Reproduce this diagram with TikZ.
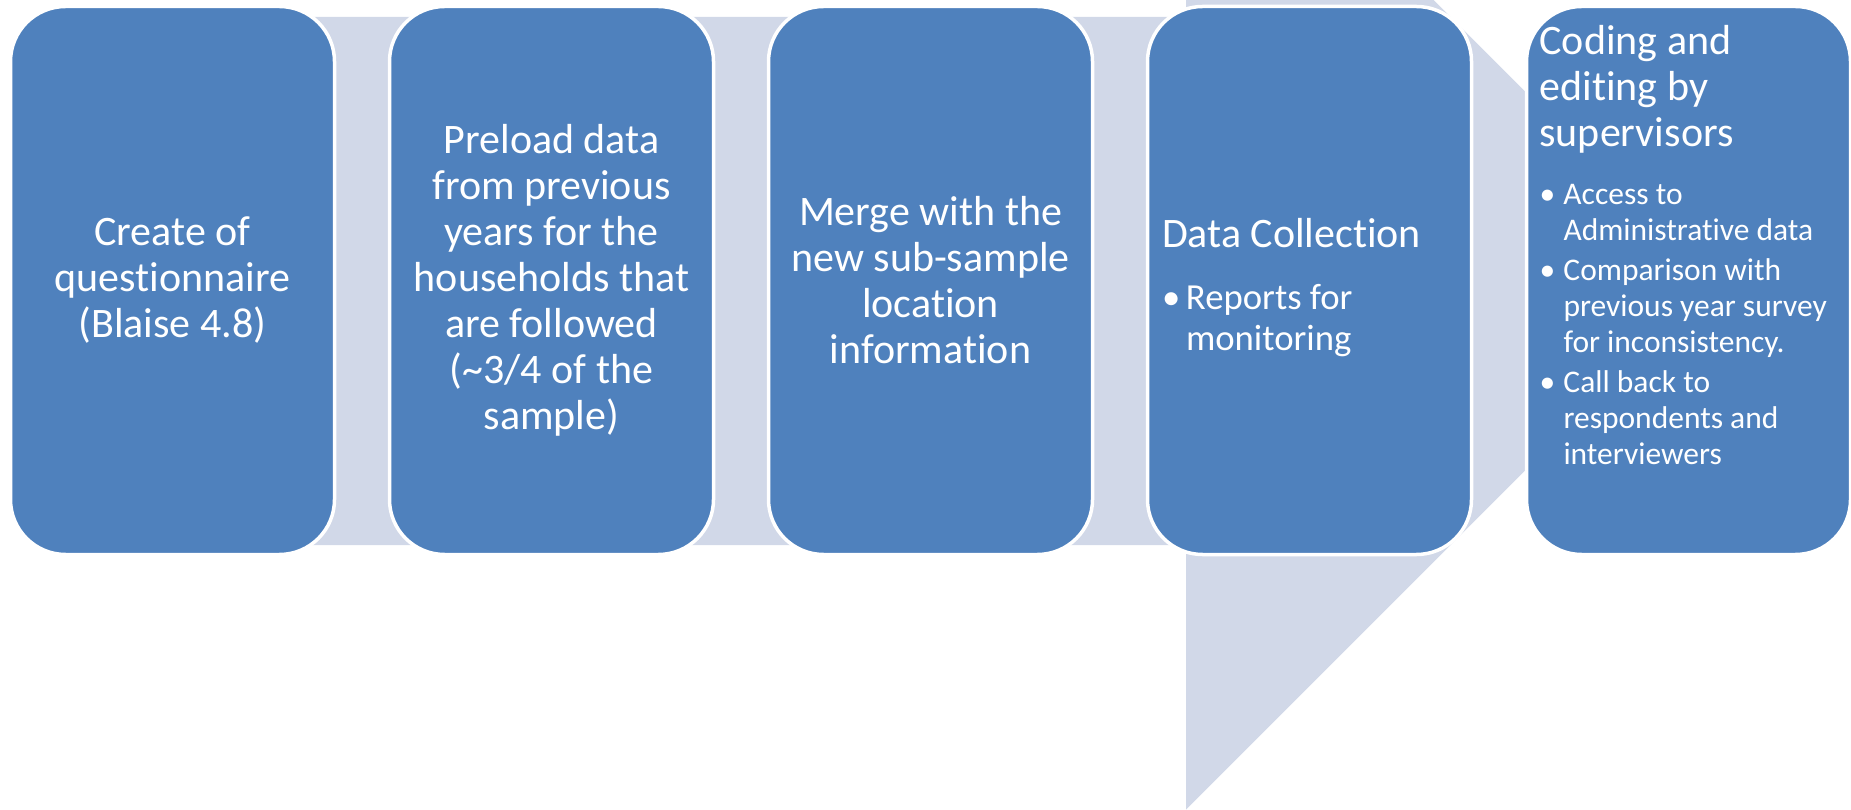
\documentclass[tikz,border=0pt]{standalone}
\usepackage{fontspec}
\setmainfont{Carlito}[Ligatures=NoCommon]
\usetikzlibrary{positioning}

\definecolor{stepblue}{HTML}{4F81BD}
\definecolor{bandgray}{HTML}{D1D8E8}

% bullet with hanging text
\newcommand{\stepitem}[1]{\par\hangindent=24pt\hangafter=1\noindent\makebox[24pt][l]{\textbullet}#1\par}

\begin{document}
\begin{tikzpicture}
% Style
[
    x=1pt, y=1pt, node distance=55pt,
    stepbox/.style={
        shape=rectangle, draw=white, line width=3.5pt, fill=stepblue, rounded corners=55pt,
        minimum width=324pt, minimum height=548pt, inner sep=0pt, outer sep=0pt,
        text=white, align=center, font=\fontsize{42}{46}\selectfont
    },
    stepnote/.style={
        text=white, text width=330pt, align=flush left, inner sep=0pt, outer sep=0pt,
        font=\fontsize{42}{46}\selectfont, anchor=base west
    }
]

\useasboundingbox (0,0) rectangle (1851,809);
\clip (0,0) rectangle (1851,809);

%=================================== Band ===================================
\fill[bandgray] (100,264) -- (100,792) -- (1186,792) -- (1186,1056.5)
    -- (1714.5,528) -- (1186,-0.5) -- (1186,264) -- cycle;

%=================================== Steps ==================================
{
    \node[stepbox] (step-1) at (172.5,528.5) {Create of\\questionnaire\\(Blaise 4.8)};
    \node[stepbox, right=of step-1] (step-2)
        {Preload data\\from previous\\years for the\\households that\\are followed\\(\textasciitilde3/4 of the\\sample)};
    \node[stepbox, right=of step-2] (step-3)
        {Merge with the\\new sub-sample\\location\\information};
    \node[stepbox, right=of step-3] (step-4) {};
    \node[stepbox, right=of step-4] (step-5) {};

    \node[stepnote] (step-4-text) at ([shift={(14.5,-241.5)}] step-4.north west)
        {Data Collection\par\vspace{21.7pt}%
         {\fontsize{36.7}{40.3}\selectfont\stepitem{Reports for\newline monitoring}}};
    \node[stepnote] (step-5-text) at ([shift={(13,-48)}] step-5.north west)
        {Coding and\newline editing by\newline supervisors\par\vspace{18pt}%
         {\fontsize{31.5}{36}\selectfont\parskip=4pt
          \stepitem{Access to\newline Administrative data}
          \stepitem{Comparison with\newline previous year survey\newline for inconsistency.}
          \stepitem{Call back to\newline respondents and\newline interviewers}}};
}
%==================================== END ===================================

\end{tikzpicture}
\end{document}
